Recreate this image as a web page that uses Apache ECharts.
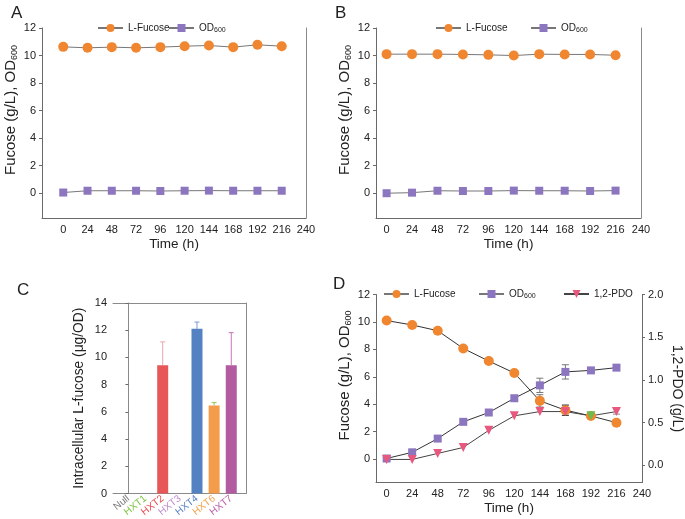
<!DOCTYPE html>
<html>
<head>
<meta charset="utf-8">
<script src="https://cdn.jsdelivr.net/npm/echarts@6/dist/echarts.min.js"></script>
<style>
  html, body { margin: 0; padding: 0; background: #fff; }
  #chart { width: 685px; height: 519px; }
</style>
</head>
<body>
<div id="chart"></div>
<script>
// time points (h)
const time = [0, 24, 48, 72, 96, 120, 144, 168, 192, 216];
const timeTicks = [0, 24, 48, 72, 96, 120, 144, 168, 192, 216, 240];
const leftTicks = [0, 2, 4, 6, 8, 10, 12];
const pdoTicks = [0, 0.5, 1, 1.5, 2];

// panel A
const aFucose = [10.63, 10.56, 10.61, 10.56, 10.61, 10.68, 10.73, 10.61, 10.78, 10.68];
const aOD = [0.05, 0.18, 0.18, 0.18, 0.16, 0.18, 0.19, 0.18, 0.18, 0.18];

// panel B
const bFucose = [10.1, 10.1, 10.1, 10.08, 10.05, 10.0, 10.1, 10.08, 10.08, 10.02];
const bOD = [0, 0.04, 0.18, 0.16, 0.16, 0.19, 0.18, 0.18, 0.16, 0.19];

// panel C
const strains = ["Null", "HXT1", "HXT2", "HXT3", "HXT4", "HXT6", "HXT7"];
const intraFucose = [null, null, 9.43, null, 12.1, 6.46, 9.43];
const intraErr = [null, null, 1.71, null, 0.5, 0.22, 2.39];
const strainColors = ["#7a7a7a", "#7cc242", "#e8474d", "#c08bd0", "#5a82c4", "#f4a04a", "#b65ea8"];
const barColors = [null, null, "#e85757", null, "#5481c2", "#f39c4b", "#b25ba1"];
const errColors = [null, null, "#eba6a6", null, "#7b9cd3", "#9cc45a", "#c674ba"];

// panel D
const dFucose = [10.1, 9.78, 9.36, 8.07, 7.15, 6.28, 4.25, 3.57, 3.15, 2.66];
const dOD = [0.05, 0.5, 1.5, 2.72, 3.4, 4.44, 5.38, 6.36, 6.47, 6.67];
const dPDO = [0.07, 0.07, 0.14, 0.21, 0.41, 0.58, 0.63, 0.63, 0.58, 0.63];
const dFucoseErr = [0, 0, 0, 0, 0, 0, 0.45, 0.37, 0, 0];
const dODErr = [0, 0, 0, 0, 0, 0, 0.52, 0.52, 0, 0];
const dPDOErr = [0, 0, 0, 0, 0, 0, 0, 0, 0.02, 0.03];

const FONT = "Liberation Sans, Arial, sans-serif";
const AXIS_COLOR = "#6a6a6a";
const ORANGE = "#f0862f";
const PURPLE = "#8c76c0";
const PINK = "#e8577e";

const pairs = (xs, ys) => xs.map((x, i) => [x, ys[i]]);

function errData(xs, ys, errs) {
  return xs.map((x, i) => [x, ys[i], ys[i] - errs[i], ys[i] + errs[i]]).filter((d, i) => errs[i] > 0);
}

function errRender(capHalf, colorFn, upOnly) {
  return function (params, api) {
    const x = api.value(0);
    const lo = upOnly ? api.value(1) : api.value(2);
    const hi = api.value(3);
    const pLo = api.coord([x, lo]);
    const pHi = api.coord([x, hi]);
    const style = { stroke: colorFn(params.dataIndex), lineWidth: 1 };
    const children = [
      { type: "line", shape: { x1: pLo[0], y1: pLo[1], x2: pHi[0], y2: pHi[1] }, style },
      { type: "line", shape: { x1: pHi[0] - capHalf, y1: pHi[1], x2: pHi[0] + capHalf, y2: pHi[1] }, style }
    ];
    if (!upOnly) {
      children.push({ type: "line", shape: { x1: pLo[0] - capHalf, y1: pLo[1], x2: pLo[0] + capHalf, y2: pLo[1] }, style });
    }
    return { type: "group", children };
  };
}

function timeAxis(gridIndex, min) {
  return {
    type: "value", gridIndex, min, max: 240,
    name: "Time (h)", nameLocation: "middle", nameGap: 19,
    nameTextStyle: { fontFamily: FONT, fontSize: 13.5, color: "#222" },
    axisLine: { show: true, onZero: false, lineStyle: { color: AXIS_COLOR } },
    axisTick: { show: false },
    axisLabel: { customValues: timeTicks, fontFamily: FONT, fontSize: 11, color: "#222", margin: 6 },
    splitLine: { show: false }
  };
}

function leftAxis(gridIndex, min, name) {
  return {
    type: "value", gridIndex, min, max: 12, position: "left",
    name: name, nameLocation: "middle", nameGap: 23,
    nameTextStyle: {
      fontFamily: FONT, fontSize: 15, color: "#222", padding: [0, 0, 0, 26],
      rich: { sub: { fontFamily: FONT, fontSize: 9, color: "#222", verticalAlign: "bottom", padding: [7, 0, 0, 0] } }
    },
    axisLine: { show: true, onZero: false, lineStyle: { color: AXIS_COLOR } },
    axisTick: { show: true, customValues: leftTicks, length: 3, lineStyle: { color: AXIS_COLOR } },
    axisLabel: { customValues: leftTicks, fontFamily: FONT, fontSize: 11, color: "#222", margin: 6 },
    splitLine: { show: false }
  };
}

function frameAxis(gridIndex, position) {
  return {
    type: "value", gridIndex, position, min: 0, max: 1,
    axisLine: { show: true, onZero: false, lineStyle: { color: "#8a8a8a" } },
    axisTick: { show: false }, axisLabel: { show: false }, splitLine: { show: false }
  };
}

// one legend per entry so each sits where the reference has it
function legendItem(name, left, top) {
  return {
    data: [name], top, left, itemWidth: 25, itemHeight: 10, itemGap: 0,
    selectedMode: false,
    textStyle: {
      fontFamily: FONT, fontSize: 10, color: "#222",
      rich: { sub: { fontFamily: FONT, fontSize: 7, color: "#222", verticalAlign: "bottom", padding: [5, 0, 0, 0] } }
    },
    formatter: (n) => n === "OD600" ? "OD{sub|600}" : n
  };
}

function lineSeries(name, x, y, data, symbol, color, lineColor, size) {
  return {
    name, type: "line", xAxisIndex: x, yAxisIndex: y, data,
    symbol, symbolSize: size, showSymbol: true,
    lineStyle: { color: lineColor, width: 1 },
    itemStyle: { color },
    emphasis: { disabled: true },
    animation: false, z: 3
  };
}

const yName = "Fucose (g/L), OD{sub|600}";
const panelTitle = (text, left, top) => ({
  text, left, top, textStyle: { fontFamily: FONT, fontSize: 17, fontWeight: "normal", color: "#222" }
});

const myChart = echarts.init(document.getElementById("chart"), null, { renderer: "canvas" });

const option = {
  backgroundColor: "#fff",
  animation: false,
  title: [
    panelTitle("A", 6, 0),
    panelTitle("B", 330, 0),
    panelTitle("C", 12, 277),
    panelTitle("D", 328, 271)
  ],
  legend: [
    legendItem("L-Fucose", 92, 18),
    legendItem("OD600", 163, 18),
    legendItem("L-Fucose", 430, 18),
    legendItem("OD600", 525, 18),
    legendItem("L-Fucose", 378, 284),
    legendItem("OD600", 473, 284),
    legendItem("1,2-PDO", 558, 284)
  ],
  grid: [
    { left: 42, top: 28, width: 264, height: 190 },
    { left: 376, top: 28, width: 265, height: 190 },
    { left: 113, top: 303, width: 133, height: 190.5 },
    { left: 376, top: 294.5, width: 266, height: 188 }
  ],
  xAxis: [
    timeAxis(0, -21),
    timeAxis(1, -10),
    {
      type: "value", gridIndex: 2, min: -0.9, max: 6.86,
      axisLine: { show: true, onZero: false, lineStyle: { color: "#8a8a8a" } },
      axisTick: { show: false },
      axisLabel: {
        customValues: [0, 1, 2, 3, 4, 5, 6], rotate: 38, margin: 4,
        fontFamily: FONT, fontSize: 10,
        formatter: (v) => { const i = Math.round(v); return "{c" + i + "|" + strains[i] + "}"; },
        rich: Object.fromEntries(strainColors.map((c, i) => ["c" + i, { color: c, fontFamily: FONT, fontSize: 10 }]))
      },
      splitLine: { show: false }
    },
    timeAxis(3, -10),
    frameAxis(2, "top")
  ],
  yAxis: [
    leftAxis(0, -1.8, yName),
    frameAxis(0, "right"),
    leftAxis(1, -1.8, yName),
    frameAxis(1, "right"),
    {
      type: "value", gridIndex: 2, min: 0, max: 14, interval: 2, position: "left",
      name: "Intracellular L-fucose (μg/OD)", nameLocation: "middle", nameGap: 27,
      nameTextStyle: { fontFamily: FONT, fontSize: 13.8, color: "#222" },
      axisLine: { show: true, lineStyle: { color: "#8a8a8a" } },
      axisTick: { show: true, length: 3, lineStyle: { color: AXIS_COLOR } },
      axisLabel: { fontFamily: FONT, fontSize: 11, color: "#222", margin: 6 },
      splitLine: { show: false }
    },
    frameAxis(2, "right"),
    leftAxis(3, -1.7, yName),
    {
      type: "value", gridIndex: 3, min: -0.2, max: 2, position: "right",
      name: "1,2-PDO (g/L)", nameLocation: "middle", nameGap: 28, nameRotate: -90,
      nameTextStyle: { fontFamily: FONT, fontSize: 14, color: "#222" },
      axisLine: { show: true, onZero: false, lineStyle: { color: AXIS_COLOR } },
      axisTick: { show: true, customValues: pdoTicks, length: 3, lineStyle: { color: AXIS_COLOR } },
      axisLabel: { customValues: pdoTicks, formatter: (v) => v.toFixed(1), fontFamily: FONT, fontSize: 11, color: "#222", margin: 6 },
      splitLine: { show: false }
    }
  ],
  series: [
    // A
    lineSeries("L-Fucose", 0, 0, pairs(time, aFucose), "circle", ORANGE, "#777", 10),
    lineSeries("OD600", 0, 0, pairs(time, aOD), "rect", PURPLE, "#777", 8),
    // B
    lineSeries("L-Fucose", 1, 2, pairs(time, bFucose), "circle", ORANGE, "#777", 10),
    lineSeries("OD600", 1, 2, pairs(time, bOD), "rect", PURPLE, "#777", 8),
    // C
    {
      type: "custom", xAxisIndex: 2, yAxisIndex: 4, silent: true, z: 1,
      data: intraFucose.map((v, i) => [i, v, v, v + intraErr[i]]).filter(d => d[1] != null),
      encode: { x: 0, y: [1, 3] },
      renderItem: (params, api) => {
        const idx = api.value(0);
        return errRender(2.5, () => errColors[idx], true)(params, api);
      }
    },
    {
      type: "bar", xAxisIndex: 2, yAxisIndex: 4, barWidth: 11, silent: true, z: 2,
      data: intraFucose.map((v, i) => ({ value: [i, v], itemStyle: { color: barColors[i] } })).filter(d => d.value[1] != null)
    },
    // D
    {
      type: "custom", xAxisIndex: 3, yAxisIndex: 6, silent: true, z: 2,
      data: errData(time, dOD, dODErr), encode: { x: 0, y: [2, 3] },
      renderItem: errRender(3.5, () => "#777", false)
    },
    {
      type: "custom", xAxisIndex: 3, yAxisIndex: 6, silent: true, z: 2,
      data: errData(time, dFucose, dFucoseErr), encode: { x: 0, y: [2, 3] },
      renderItem: errRender(3.5, (i) => i === 1 ? "#111" : "#777", false)
    },
    {
      type: "custom", xAxisIndex: 3, yAxisIndex: 7, silent: true, z: 2,
      data: errData(time, dPDO, dPDOErr), encode: { x: 0, y: [2, 3] },
      renderItem: errRender(3.5, () => "#888", false)
    },
    lineSeries("L-Fucose", 3, 6, pairs(time, dFucose), "circle", ORANGE, "#333", 10),
    lineSeries("OD600", 3, 6, pairs(time, dOD), "rect", PURPLE, "#333", 8),
    Object.assign(lineSeries("1,2-PDO", 3, 7,
      time.map((t, i) => i === 8 ? { value: [t, dPDO[i]], itemStyle: { color: "#6dbb4e" } } : [t, dPDO[i]]),
      "triangle", PINK, "#444", 9), { symbolRotate: 180 })
  ]
};

myChart.setOption(option);
</script>
</body>
</html>
